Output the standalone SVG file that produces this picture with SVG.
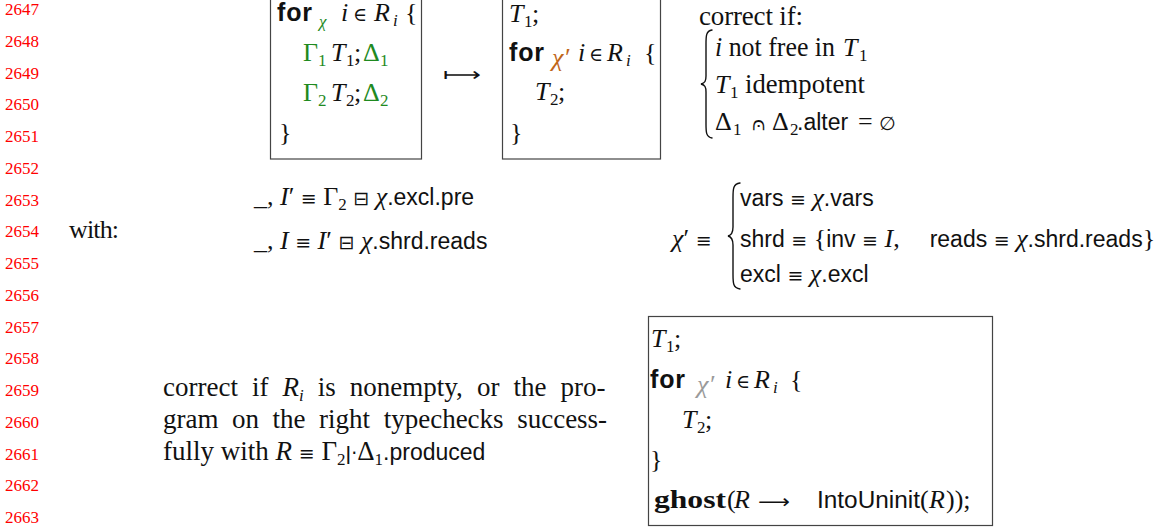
<svg xmlns="http://www.w3.org/2000/svg" width="1166" height="529" viewBox="0 0 1166 529">
<style>
  text { font-family: "Liberation Serif", "DejaVu Serif", serif; font-size: 26px; fill: #111; }
  .ln { font-size: 17px; fill: #ff0000; }
  .it { font-style: italic; }
  .p { font-size: 27px; }
  .sf { font-family: "Liberation Sans", "DejaVu Sans", sans-serif; font-size: 23px; }
  .kw { font-family: "Liberation Sans", "DejaVu Sans", sans-serif; font-weight: bold; font-size: 25px; }
  .kb { font-weight: bold; }
  .sub { font-size: 17px; }
  .sym { font-family: "DejaVu Sans", sans-serif; font-size: 19px; }
  .el { font-family: "DejaVu Serif", serif; font-size: 19px; }
  .g { fill: #1f8a1f; }
  .o { fill: #c0661a; }
  .gr { fill: #9a9a9a; }
  .box { fill: none; stroke: #444; stroke-width: 1.2; }
  .brace { fill: none; stroke: #111; stroke-width: 1.4; stroke-linecap: round; }
</style>

<g id="line-numbers">
  <text class="ln" x="5" y="15">2647</text>
  <text class="ln" x="5" y="46.75">2648</text>
  <text class="ln" x="5" y="78.5">2649</text>
  <text class="ln" x="5" y="110.25">2650</text>
  <text class="ln" x="5" y="142">2651</text>
  <text class="ln" x="5" y="173.75">2652</text>
  <text class="ln" x="5" y="205.5">2653</text>
  <text class="ln" x="5" y="237.25">2654</text>
  <text class="ln" x="5" y="269">2655</text>
  <text class="ln" x="5" y="300.75">2656</text>
  <text class="ln" x="5" y="332.5">2657</text>
  <text class="ln" x="5" y="364.25">2658</text>
  <text class="ln" x="5" y="396">2659</text>
  <text class="ln" x="5" y="427.75">2660</text>
  <text class="ln" x="5" y="459.5">2661</text>
  <text class="ln" x="5" y="491.25">2662</text>
  <text class="ln" x="5" y="523">2663</text>
</g>

<g id="node-lhs">
  <rect class="box" x="270.5" y="-20" width="151" height="179"/>
  <text class="kw" x="277" y="21" textLength="35">for</text>
  <text class="it g sub" x="319" y="27" font-size="18">χ</text>
  <text class="it" x="341" y="21">i</text>
  <text class="el" x="353" y="21">∈</text>
  <text class="it" x="374" y="21">R</text>
  <text class="it sub" x="393" y="26">i</text>
  <text x="405" y="21">{</text>
  <text class="g" x="303" y="61">Γ</text><text class="g sub" x="318" y="66">1</text>
  <text class="it" x="331" y="61">T</text><text class="sub" x="346" y="66">1</text><text x="354" y="61">;</text>
  <text class="g" x="363" y="61">Δ</text><text class="g sub" x="380" y="66">1</text>
  <text class="g" x="303" y="101">Γ</text><text class="g sub" x="318" y="106">2</text>
  <text class="it" x="331" y="101">T</text><text class="sub" x="346" y="106">2</text><text x="354" y="101">;</text>
  <text class="g" x="363" y="101">Δ</text><text class="g sub" x="380" y="106">2</text>
  <text x="279" y="141">}</text>
</g>

<g id="connectors">
  <text class="sym" x="443" y="81" font-size="20" textLength="38" lengthAdjust="spacingAndGlyphs">⟼</text>
</g>

<g id="node-rhs">
  <rect class="box" x="502.5" y="-20" width="158" height="179"/>
  <text class="it" x="509" y="22">T</text><text class="sub" x="524" y="27">1</text><text x="532" y="22">;</text>
  <text class="kw" x="509" y="61" textLength="35">for</text>
  <text class="it o" x="552" y="66" font-size="18">χ′</text>
  <text class="it" x="578" y="61">i</text>
  <text class="el" x="589" y="61">∈</text>
  <text class="it" x="607" y="61">R</text>
  <text class="it sub" x="626" y="66">i</text>
  <text x="644" y="61">{</text>
  <text class="it" x="535" y="100">T</text><text class="sub" x="550" y="105">2</text><text x="558" y="100">;</text>
  <text x="510" y="141">}</text>
</g>

<g id="node-cond">
  <text class="p" x="699" y="25" textLength="104">correct if:</text>
  <path class="brace" d="M712,30 C706,31 706,36 706,44 L706,76 C706,81 705,83 701,84 C705,85 706,87 706,92 L706,124 C706,132 706,137 712,138"/>
  <text class="p" x="715" y="56" textLength="120" lengthAdjust="spacingAndGlyphs"><tspan class="it">i</tspan> not free in</text>
  <text class="it" x="843" y="56">T</text><text class="sub" x="859" y="61">1</text>
  <text class="it" x="715" y="93">T</text><text class="sub" x="730" y="98">1</text>
  <text class="p" x="745" y="93" textLength="120" lengthAdjust="spacingAndGlyphs">idempotent</text>
  <text x="715" y="130">Δ</text><text class="sub" x="733" y="135">1</text>
  <text class="sym" x="752" y="130" font-size="17">⩀</text>
  <text x="772" y="130">Δ</text><text class="sub" x="790" y="135">2</text>
  <text class="sf" x="797" y="130" font-size="25">.alter</text>
  <text x="858" y="130">=</text>
  <text class="sym" x="879" y="130">∅</text>
</g>

<g id="node-with">
  <text x="69" y="238" textLength="50">with:</text>
  <text x="254" y="205">_, <tspan class="it">I</tspan>′ <tspan class="sym">≡</tspan> Γ<tspan class="sub" dy="5">2</tspan><tspan dy="-5"> </tspan><tspan class="sym">⊟</tspan> <tspan class="it">χ</tspan><tspan class="sf">.excl.pre</tspan></text>
  <text x="254" y="249">_, <tspan class="it">I</tspan> <tspan class="sym">≡</tspan> <tspan class="it">I</tspan>′ <tspan class="sym">⊟</tspan> <tspan class="it">χ</tspan><tspan class="sf">.shrd.reads</tspan></text>
</g>

<g id="node-chi">
  <text x="672" y="247"><tspan class="it">χ</tspan>′ <tspan class="sym">≡</tspan></text>
  <path class="brace" d="M740,183 C733,184 733,189 733,198 L733,227 C733,232 732,235 728,236 C732,237 733,240 733,245 L733,274 C733,283 733,288 740,289"/>
  <text x="740" y="206"><tspan class="sf">vars</tspan> <tspan class="sym">≡</tspan> <tspan class="it">χ</tspan><tspan class="sf">.vars</tspan></text>
  <text x="740" y="247"><tspan class="sf">shrd</tspan> <tspan class="sym">≡</tspan> {<tspan class="sf">inv</tspan> <tspan class="sym">≡</tspan> <tspan class="it">I</tspan>,<tspan class="sf" dx="30">reads</tspan> <tspan class="sym">≡</tspan> <tspan class="it">χ</tspan><tspan class="sf">.shrd.reads</tspan>}</text>
  <text x="740" y="282"><tspan class="sf">excl</tspan> <tspan class="sym">≡</tspan> <tspan class="it">χ</tspan><tspan class="sf">.excl</tspan></text>
</g>

<g id="node-note">
  <text class="p" x="163" y="396" word-spacing="7.3">correct if <tspan class="it">R</tspan><tspan class="it sub" dy="5">i</tspan><tspan dy="-5"> is nonempty, or the pro-</tspan></text>
  <text class="p" x="163" y="428" word-spacing="6.8">gram on the right typechecks success-</text>
  <text class="p" x="163" y="460">fully with <tspan class="it">R</tspan> <tspan class="sym">≡</tspan> Γ<tspan class="sub" dy="5">2</tspan><tspan class="sym" dy="-5" font-size="14">ǀ·</tspan>Δ<tspan class="sub" dy="5">1</tspan><tspan class="sf" dy="-5" font-size="21">.produced</tspan></text>
</g>

<g id="node-ghost">
  <rect class="box" x="648.5" y="316.5" width="344" height="209"/>
  <text class="it" x="651" y="347">T</text><text class="sub" x="666" y="352">1</text><text x="674" y="347">;</text>
  <text class="kw" x="650" y="388" textLength="35">for</text>
  <text class="it gr" x="697" y="393" font-size="18">χ′</text>
  <text class="it" x="725" y="388">i</text>
  <text class="el" x="736" y="388">∈</text>
  <text class="it" x="754" y="388">R</text>
  <text class="it sub" x="773" y="393">i</text>
  <text x="790" y="388">{</text>
  <text class="it" x="682" y="428">T</text><text class="sub" x="697" y="433">2</text><text x="705" y="428">;</text>
  <text x="650" y="468">}</text>
  <text class="kb" x="654" y="508" font-size="29" textLength="72" lengthAdjust="spacingAndGlyphs">ghost</text>
  <text x="727" y="508">(</text>
  <text class="it" x="734" y="508">R</text>
  <text class="sym" x="758" y="508" textLength="32" lengthAdjust="spacingAndGlyphs">⟶</text>
  <text class="sf" x="817" y="508" font-size="25" textLength="103" lengthAdjust="spacingAndGlyphs">IntoUninit</text>
  <text x="920" y="508">(</text>
  <text class="it" x="929" y="508">R</text>
  <text x="946" y="508">));</text>
</g>
</svg>
